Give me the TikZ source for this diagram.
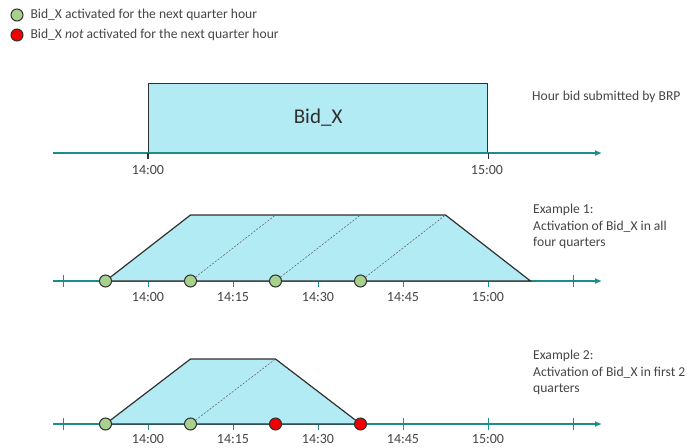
\documentclass[tikz,border=0pt]{standalone}
\usepackage{fontspec}
\setmainfont{Carlito}
\usetikzlibrary{arrows.meta}
\definecolor{tealc}{HTML}{1A8C8C}
\definecolor{fillc}{HTML}{B3EBF5}
\definecolor{edgec}{HTML}{303030}
\definecolor{greenc}{HTML}{A9D18E}
\definecolor{redc}{HTML}{F20000}
\definecolor{txtc}{HTML}{454545}
\begin{document}
\begin{tikzpicture}[x=1pt,y=-1pt,
  axisline/.style={draw=tealc, line width=1.3pt, -{Latex[length=7pt,width=6pt]}},
  tickm/.style={draw=tealc, line width=1pt},
  trap/.style={fill=fillc, draw=edgec, line width=1.2pt, line join=miter},
  dashln/.style={draw=edgec!80, dashed, dash pattern=on 2pt off 1.5pt, line width=0.5pt},
  act/.style={circle, fill=greenc, draw=edgec, line width=1pt, minimum size=12pt, inner sep=0pt},
  nact/.style={circle, fill=redc, draw=edgec, line width=1pt, minimum size=12pt, inner sep=0pt},
  tlbl/.style={font=\fontsize{14}{16}\selectfont, text=txtc},
  legtxt/.style={font=\fontsize{13.6}{15}\selectfont, text=txtc, anchor=west},
  note/.style={font=\fontsize{13.6}{16.5}\selectfont, text=txtc, align=left, anchor=north west, inner sep=0pt}
]
\useasboundingbox (0,0) rectangle (687,447);
% legend
\node[act] (lg1) at (17,15) {};
\node[legtxt] (lt1) at (27,15) {Bid\_X activated for the next quarter hour};
\node[nact] (lg2) at (17,35) {};
\node[legtxt] (lt2) at (27,35) {Bid\_X \textit{not} activated for the next quarter hour};

% top: hour bid
\coordinate (t0) at (53,153);
\coordinate (t1) at (602,153);
\node[fill=fillc, draw=edgec, line width=1.2pt, minimum width=339pt, minimum height=69pt, anchor=south west, inner sep=0pt, font=\fontsize{21}{24}\selectfont, text=edgec] (bid) at (148,153) {Bid\_X};
\draw[axisline] (t0) -- (t1);
\draw[edgec, line width=1.2pt] (bid.south west) -- ++(0,6);
\draw[edgec, line width=1.2pt] (bid.south east) -- ++(0,6);
\node[tlbl] (h14) at (148,170) {14:00};
\node[tlbl] (h15) at (487,170) {15:00};
\node[note, anchor=west] (n0) at (532,97) {Hour bid submitted by BRP};

% example 1
\coordinate (a0) at (53,281);
\coordinate (a1) at (602,281);
\draw[axisline] (a0) -- (a1);
\foreach \x in {63,148,233,318,403,488,573} \draw[tickm] (\x,275) -- (\x,287);
\draw[trap] (105.5,281) -- (190.5,215) -- (445.5,215) -- (530.5,281) -- cycle;
\node[act] (e1a) at (105.5,281) {};
\node[act] (e1b) at (190.5,281) {};
\node[act] (e1c) at (275.5,281) {};
\node[act] (e1d) at (360.5,281) {};
\coordinate (e1tb) at (275.5,215);
\coordinate (e1tc) at (360.5,215);
\coordinate (e1td) at (445.5,215);
\draw[dashln] (e1b) -- (e1tb);
\draw[dashln] (e1c) -- (e1tc);
\draw[dashln] (e1d) -- (e1td);
\foreach \x/\t in {148/14:00,233/14:15,318/14:30,403/14:45,488/15:00} \node[tlbl] at (\x,297) {\t};
\node[note] (n1) at (533,204) {Example 1:\\Activation of Bid\_X in all\\four quarters};

% example 2
\coordinate (b0) at (53,424);
\coordinate (b1) at (602,424);
\draw[axisline] (b0) -- (b1);
\foreach \x in {63,148,233,318,403,488,573} \draw[tickm] (\x,418) -- (\x,430);
\draw[trap] (105.5,424) -- (190.5,359) -- (275.5,359) -- (360.5,424) -- cycle;
\node[act] (e2a) at (105.5,424) {};
\node[act] (e2b) at (190.5,424) {};
\node[nact] (e2c) at (275.5,424) {};
\node[nact] (e2d) at (360.5,424) {};
\coordinate (e2tb) at (275.5,359);
\draw[dashln] (e2b) -- (e2tb);
\foreach \x/\t in {148/14:00,233/14:15,318/14:30,403/14:45,488/15:00} \node[tlbl] at (\x,439) {\t};
\node[note] (n2) at (533,350) {Example 2:\\Activation of Bid\_X in first 2\\quarters};
\end{tikzpicture}
\end{document}
